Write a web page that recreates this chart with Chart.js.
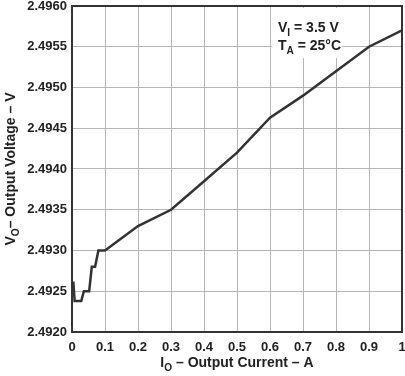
<!DOCTYPE html>
<html>
<head>
<meta charset="utf-8">
<script src="https://cdn.jsdelivr.net/npm/chart.js@4"></script>
<style>
  html, body { margin: 0; padding: 0; background: #fff; }
  #wrap { width: 405px; height: 376px; }
</style>
</head>
<body>
<div id="wrap"><canvas id="grafico"></canvas></div>
<script>
// output current (A) and output voltage (V)
const corriente = [0, 0.002, 0.004, 0.008, 0.028, 0.036, 0.052, 0.06, 0.07, 0.08, 0.1, 0.2, 0.3, 0.4, 0.5, 0.6, 0.7, 0.8, 0.9, 1.0];
const voltaje = [2.49262, 2.4925, 2.49262, 2.49238, 2.49238, 2.4925, 2.4925, 2.4928, 2.4928, 2.4930, 2.4930, 2.4933, 2.4935, 2.49385, 2.4942, 2.49463, 2.4949, 2.4952, 2.4955, 2.4957];
const xTicks = [0, 0.1, 0.2, 0.3, 0.4, 0.5, 0.6, 0.7, 0.8, 0.9, 1];
const yTicks = [2.4920, 2.4925, 2.4930, 2.4935, 2.4940, 2.4945, 2.4950, 2.4955, 2.4960];

const FONT = 'Liberation Sans, Arial, Helvetica, sans-serif';

// draws text pieces, some of them as subscripts
function textoSub(ctx, partes, x, y, size, align) {
    let total = 0;
    partes.forEach(p => {
        ctx.font = 'bold ' + (p.sub ? size * 0.72 : size) + 'px ' + FONT;
        total += ctx.measureText(p.t).width;
    });
    let cx = align === 'center' ? x - total / 2 : x;
    partes.forEach(p => {
        ctx.font = 'bold ' + (p.sub ? size * 0.72 : size) + 'px ' + FONT;
        ctx.fillText(p.t, cx, p.sub ? y + size * 0.3 : y);
        cx += ctx.measureText(p.t).width;
    });
}

const etiquetas = {
    id: 'etiquetas',
    afterDraw(chart) {
        const ctx = chart.ctx;
        const a = chart.chartArea;
        ctx.save();
        ctx.textAlign = 'left';
        ctx.textBaseline = 'alphabetic';
        // note box
        ctx.fillStyle = '#fff';
        ctx.fillRect(272, 8, 70, 50);
        // plot border
        ctx.strokeStyle = '#333';
        ctx.lineWidth = 2;
        ctx.strokeRect(a.left, a.top, a.right - a.left, a.bottom - a.top);
        ctx.fillStyle = '#222';
        textoSub(ctx, [{t: 'V'}, {t: 'I', sub: true}, {t: ' = 3.5 V'}], 278, 32, 14, 'left');
        textoSub(ctx, [{t: 'T'}, {t: 'A', sub: true}, {t: ' = 25°C'}], 278, 50, 14, 'left');
        // x title
        textoSub(ctx, [{t: 'I'}, {t: 'O', sub: true}, {t: ' \u2013 Output Current \u2013 A'}], (a.left + a.right) / 2, 367, 14, 'center');
        // y title
        ctx.translate(15, (a.top + a.bottom) / 2);
        ctx.rotate(-Math.PI / 2);
        textoSub(ctx, [{t: 'V'}, {t: 'O', sub: true}, {t: '\u2013 Output Voltage \u2013 V'}], 0, 0, 14, 'center');
        ctx.restore();
    }
};

const ctx = document.getElementById('grafico').getContext('2d');
new Chart(ctx, {
    type: 'line',
    data: {
        datasets: [{
            data: corriente.map((c, i) => ({x: c, y: voltaje[i]})),
            borderColor: '#333',
            borderWidth: 2.5,
            pointRadius: 0,
            tension: 0,
            fill: false
        }]
    },
    options: {
        responsive: true,
        maintainAspectRatio: false,
        animation: false,
        layout: { padding: { top: 6, right: 3, left: 0, bottom: 0 } },
        plugins: { legend: { display: false }, tooltip: { enabled: false } },
        scales: {
            x: {
                type: 'linear',
                min: 0, max: 1,
                afterBuildTicks: s => { s.ticks = xTicks.map(v => ({value: v})); },
                afterFit: s => { s.height = 44; s.paddingLeft = 0; s.paddingRight = 0; },
                grid: { color: '#b5b5b5', lineWidth: 1, drawTicks: false },
                border: { display: false },
                ticks: {
                    padding: 8,
                    color: '#222',
                    font: { family: FONT, size: 13, weight: 'bold' },
                    maxRotation: 0,
                    callback: v => (v === 0 || v === 1) ? String(v) : v.toFixed(1)
                }
            },
            y: {
                min: 2.4920, max: 2.4960,
                afterBuildTicks: s => { s.ticks = yTicks.map(v => ({value: v})); },
                afterFit: s => { s.width = 72; s.paddingTop = 0; s.paddingBottom = 0; },
                grid: { color: '#b5b5b5', lineWidth: 1, drawTicks: false },
                border: { display: false },
                ticks: {
                    padding: 5,
                    color: '#222',
                    font: { family: FONT, size: 13, weight: 'bold' },
                    callback: v => v.toFixed(4)
                }
            }
        }
    },
    plugins: [etiquetas]
});
</script>
</body>
</html>
